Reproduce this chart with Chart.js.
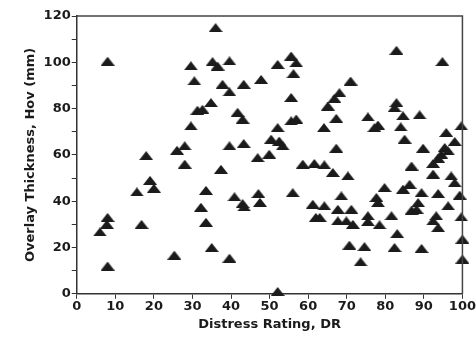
<!DOCTYPE html>
<html>
<head>
<meta charset="utf-8">
<script src="https://cdn.jsdelivr.net/npm/chart.js@4/dist/chart.umd.min.js"></script>
<style>
  html, body { margin: 0; padding: 0; background: #fff; }
  #chart { display: block; }
</style>
</head>
<body>
<canvas id="chart" width="476" height="338"></canvas>
<script>
// distress rating (x) and overlay thickness in mm (y)
const distressRating = [
  8, 8, 8, 7.8, 6, 15.6, 19, 20, 16.8, 25.3, 18, 28, 26,
  29.6, 30.5, 31.3, 29.6, 28, 36, 35.2, 36.5, 39.6, 37.8, 39.6, 43.3, 47.8,
  52.1, 55.6, 56.9, 56.2, 55.6, 34.8, 32.6, 41.7, 43, 39.6, 43.3, 52.1, 55.6,
  56.9, 50.4, 52.5, 53.4, 46.9, 49.9, 37.4, 33.5, 40.9, 43, 43.4, 47.1, 47.5,
  56, 32.2, 33.5, 35, 39.6, 52.1, 58.6, 61.6, 61.2, 62, 64.2, 66.4, 70.3,
  86.8, 93.7, 92.4, 92.4, 97.1, 98, 68.6, 79.8, 77.7, 78.1, 84.6, 86.3, 89.4,
  93.7, 88.5, 88.1, 86.8, 96.3, 99.3, 99.7, 93.2, 92.4, 93.7, 100, 100,
  64.2, 67.7, 71.2, 63, 67.7, 69.9, 71.6, 75.5, 75.5, 78.5, 81.6, 83.1,
  70.7, 74.6, 82.4, 89.4, 73.6, 82.9, 94.8, 71, 68.1, 66.8, 65.1, 67.3, 64.1,
  82.9, 82.4, 75.5, 78.1, 77.2, 84.6, 88.9, 84, 85, 89.8, 95.8, 98, 99.7,
  67.3, 95.4, 94.5, 96.3
];
const overlayThickness = [
  100.5, 12, 33, 30, 26.7, 44, 49, 45.6, 30, 16.7, 59.7, 56, 62,
  98.5, 92, 79.3, 72.5, 63.9, 115, 100.3, 98.4, 100.6, 90.5, 87.2, 90.5, 92.6,
  99.1, 102.7, 99.8, 95.1, 84.8, 82.6, 79.7, 78.4, 75.4, 63.9, 64.9, 71.8, 74.7,
  75.5, 66.8, 66, 63.9, 58.8, 60.3, 53.8, 44.7, 41.9, 39, 37.5, 43.3, 39.5,
  43.7, 37.4, 30.9, 20, 15.4, 1, 56, 56.3, 38.7, 33, 55.7, 52.4, 50.9,
  55.2, 58.5, 56.3, 51.7, 50.9, 48, 42.3, 45.9, 41.6, 39.4, 45.2, 47.3, 43.7,
  43.3, 39.4, 36.5, 36.1, 38, 42.6, 33.2, 33.7, 31.5, 28.6, 23.6, 15,
  38, 36.5, 36.5, 33, 31.5, 31.5, 30, 33.7, 31.2, 29.8, 33.7, 26,
  21, 20.4, 20, 19.6, 13.8, 105.2, 100.3, 91.9, 86.9, 84.4, 81.1, 75.8, 71.8,
  82.6, 80.4, 76.4, 72.9, 71.8, 76.9, 77.3, 72.1, 66.8, 62.9, 69.7, 65.8, 72.5,
  62.9, 63.2, 60.3, 61.7
];

const xTitle = 'Distress Rating, DR';
const yTitle = 'Overlay Thickness, Hov (mm)';

// flat filled triangle marker, like the original plot symbol
function makeTriangle() {
  const c = document.createElement('canvas');
  c.width = 14;
  c.height = 9;
  const g = c.getContext('2d');
  g.fillStyle = '#1b1b1b';
  g.beginPath();
  g.moveTo(7, 0);
  g.lineTo(14, 9);
  g.lineTo(0, 9);
  g.closePath();
  g.fill();
  return c;
}

// top and right edges of the box
const framePlugin = {
  id: 'frame',
  afterDraw(chart) {
    const { ctx, chartArea: a } = chart;
    ctx.save();
    ctx.strokeStyle = '#444';
    ctx.lineWidth = 1.5;
    ctx.beginPath();
    ctx.moveTo(a.left, a.top);
    ctx.lineTo(a.right, a.top);
    ctx.lineTo(a.right, a.bottom);
    ctx.stroke();
    ctx.restore();
  }
};

const fontTick = { family: 'DejaVu Sans', size: 13, weight: 'bold' };
const fontTitle = { family: 'DejaVu Sans', size: 13, weight: 'bold' };

new Chart(document.getElementById('chart'), {
  type: 'scatter',
  data: {
    datasets: [{
      data: distressRating.map((x, i) => ({ x: x, y: overlayThickness[i] })),
      pointStyle: makeTriangle(),
      pointRadius: 7,
      pointHoverRadius: 7,
      clip: false
    }]
  },
  options: {
    responsive: false,
    animation: false,
    layout: { padding: { top: 16, right: 13, left: 19, bottom: 2 } },
    plugins: { legend: { display: false }, tooltip: { enabled: false } },
    scales: {
      x: {
        type: 'linear',
        min: 0,
        max: 100,
        ticks: { stepSize: 10, color: '#1b1b1b', font: fontTick, padding: 0, maxRotation: 0 },
        grid: { drawOnChartArea: false, tickLength: 5, color: '#333' },
        border: { color: '#333', width: 1.5 },
        title: { display: true, text: xTitle, color: '#1b1b1b', font: fontTitle, padding: { top: 2 } }
      },
      y: {
        min: 0,
        max: 120,
        ticks: {
          stepSize: 10,
          color: '#1b1b1b',
          font: fontTick,
          padding: 1,
          callback: v => (v % 20 === 0 ? v : '')
        },
        grid: { drawOnChartArea: false, tickLength: 5, color: '#333' },
        border: { color: '#333', width: 1.5 },
        title: { display: true, text: yTitle, color: '#1b1b1b', font: fontTitle, padding: { bottom: 4 } }
      }
    }
  },
  plugins: [framePlugin]
});
</script>
</body>
</html>
